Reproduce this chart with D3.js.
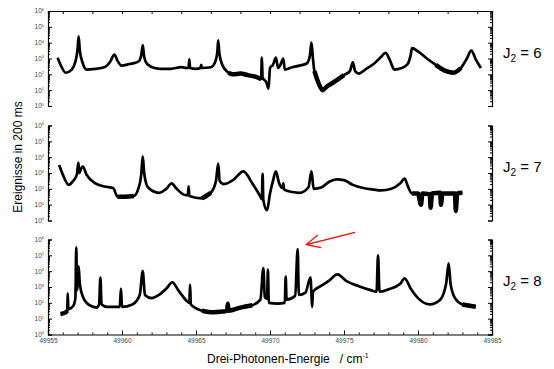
<!DOCTYPE html>
<html>
<head>
<meta charset="utf-8">
<script src="https://cdn.jsdelivr.net/npm/d3@7"></script>
<style>
  body { margin: 0; background: #fff; }
  text { font-family: "Liberation Sans", Arial, sans-serif; }
</style>
</head>
<body>
<svg id="chart" width="554" height="369"></svg>
<script>
// spectra: [energy in cm-1, log10(counts in 200 ms)]
var spectrumJ6 = [
  [49955.65, 3.05], [49955.9, 2.5], [49956.2, 2.1], [49956.6, 2.3], [49956.85, 2.8],
  [49957.0, 3.6], [49957.07, 4.4], [49957.15, 3.5], [49957.35, 2.7], [49957.6, 2.3],
  [49958.2, 2.35], [49958.8, 2.45], [49959.2, 2.8], [49959.48, 3.25], [49959.7, 2.85],
  [49959.95, 2.55], [49960.5, 2.65], [49961.1, 2.8], [49961.3, 3.2], [49961.4, 3.85],
  [49961.5, 3.1], [49961.7, 2.65], [49962.2, 2.4], [49962.6, 2.35], [49963.3, 2.35],
  [49964.0, 2.45], [49964.4, 2.4], [49964.5, 2.45], [49964.55, 2.95], [49964.6, 2.4],
  [49965.0, 2.35], [49965.3, 2.4], [49965.35, 2.6], [49965.4, 2.4], [49966.0, 2.45],
  [49966.3, 2.8], [49966.45, 3.5], [49966.5, 4.15], [49966.58, 3.3], [49966.8, 2.55],
  [49967.2, 2.1], [49967.5, 2.0], [49968.0, 2.05], [49968.5, 1.95], [49969.0, 1.85],
  [49969.4, 1.7], [49969.45, 3.05], [49969.5, 1.8], [49969.75, 1.5], [49969.9, 1.1],
  [49970.0, 2.4], [49970.2, 2.6], [49970.4, 3.05], [49970.55, 2.4], [49970.7, 2.6],
  [49970.9, 3.0], [49971.0, 2.3], [49971.5, 2.45], [49972.0, 2.55], [49972.5, 2.7],
  [49972.7, 3.2], [49972.8, 4.0], [49972.9, 3.0], [49973.0, 2.2], [49973.3, 1.4],
  [49973.55, 1.0], [49973.8, 1.2], [49974.3, 1.5], [49975.0, 1.95], [49975.4, 2.2],
  [49975.6, 2.75], [49975.75, 2.2], [49976.0, 2.05], [49976.5, 2.35], [49977.0, 2.65],
  [49977.5, 3.1], [49977.8, 3.35], [49978.1, 2.9], [49978.4, 2.3], [49978.9, 2.4],
  [49979.3, 2.65], [49979.5, 3.2], [49979.6, 3.65], [49980.0, 3.45], [49980.6, 3.0],
  [49981.2, 2.6], [49981.9, 2.2], [49982.4, 2.1], [49982.9, 2.4], [49983.3, 3.0],
  [49983.6, 3.5], [49983.9, 2.95], [49984.25, 2.4]
];

var spectrumJ7 = [
  [49955.75, 3.5], [49956.0, 2.9], [49956.4, 2.25], [49956.7, 2.5], [49956.95, 2.9],
  [49957.05, 3.65], [49957.12, 3.0], [49957.2, 3.2], [49957.35, 3.4], [49957.6, 2.9],
  [49958.2, 2.35], [49958.8, 2.15], [49959.4, 2.05], [49959.7, 1.5], [49960.2, 1.5],
  [49960.8, 1.55], [49961.1, 2.0], [49961.3, 2.9], [49961.4, 4.05], [49961.5, 3.0],
  [49961.75, 2.1], [49962.5, 1.75], [49963.0, 2.0], [49963.35, 2.35], [49963.7, 2.0],
  [49964.3, 1.6], [49964.45, 1.6], [49964.5, 2.15], [49964.55, 1.55], [49965.4, 1.4],
  [49966.0, 1.75], [49966.35, 2.5], [49966.5, 3.6], [49966.6, 2.5], [49966.9, 2.3],
  [49967.5, 2.55], [49968.2, 3.1], [49968.8, 2.35], [49969.3, 1.6], [49969.45, 1.35],
  [49969.5, 2.95], [49969.55, 1.3], [49969.8, 0.65], [49970.0, 1.7], [49970.2, 2.5],
  [49970.4, 3.1], [49970.6, 2.4], [49970.85, 2.05], [49970.9, 2.35], [49970.95, 1.95],
  [49971.5, 1.8], [49972.0, 1.75], [49972.6, 2.1], [49972.8, 3.1], [49972.95, 2.0],
  [49973.5, 2.1], [49974.0, 2.45], [49974.5, 2.6], [49975.0, 2.55], [49975.6, 2.25],
  [49976.3, 2.05], [49977.0, 1.95], [49977.5, 1.9], [49978.2, 2.0], [49978.8, 2.35],
  [49979.1, 2.65], [49979.3, 2.2], [49979.6, 1.7], [49980.0, 1.7], [49980.2, 1.0],
  [49980.3, 1.7], [49980.8, 1.65], [49980.85, 0.8], [49980.95, 1.7], [49981.5, 1.75],
  [49981.55, 1.0], [49981.65, 1.7], [49982.5, 1.7], [49982.55, 0.6], [49982.65, 1.7],
  [49983.0, 1.75]
];

var spectrumJ8 = [
  [49955.85, 1.3], [49956.2, 1.4], [49956.3, 1.5], [49956.33, 2.6], [49956.38, 1.6],
  [49956.7, 1.8], [49956.85, 2.3], [49956.91, 5.5], [49956.96, 2.8], [49957.02, 3.3],
  [49957.07, 4.3], [49957.15, 3.2], [49957.35, 2.4], [49957.8, 1.85], [49958.3, 1.7],
  [49958.45, 1.9], [49958.54, 3.6], [49958.62, 1.9], [49959.0, 1.75], [49959.85, 1.75],
  [49959.93, 2.9], [49960.0, 1.75], [49960.7, 1.9], [49961.2, 2.5], [49961.4, 4.0],
  [49961.55, 2.5], [49962.0, 2.3], [49962.5, 2.5], [49963.0, 2.9], [49963.4, 3.3],
  [49963.8, 2.8], [49964.4, 2.1], [49964.55, 2.0], [49964.6, 3.15], [49964.65, 1.9],
  [49965.4, 1.5], [49966.2, 1.4], [49966.8, 1.45], [49967.1, 1.5], [49967.15, 1.95],
  [49967.2, 1.5], [49968.0, 1.7], [49968.8, 1.85], [49969.35, 2.2], [49969.55, 4.2],
  [49969.65, 2.35], [49969.8, 2.25], [49969.86, 4.1], [49969.92, 2.0], [49970.5, 1.95],
  [49971.0, 2.0], [49971.06, 3.65], [49971.12, 2.2], [49971.7, 2.45], [49971.87, 5.4],
  [49971.95, 2.5], [49972.4, 2.65], [49972.73, 3.6], [49972.82, 2.2], [49972.85, 1.75],
  [49972.9, 2.7], [49973.5, 3.1], [49974.0, 3.4], [49974.55, 3.8], [49975.2, 3.35],
  [49976.0, 3.05], [49976.8, 2.8], [49977.2, 2.7], [49977.3, 5.0], [49977.4, 2.7],
  [49978.0, 2.85], [49978.8, 3.2], [49979.1, 3.55], [49979.5, 2.9], [49980.0, 2.3],
  [49980.8, 1.9], [49981.5, 2.2], [49981.9, 3.2], [49982.07, 4.5], [49982.2, 3.2],
  [49982.5, 2.3], [49983.0, 1.9], [49983.9, 1.75]
];

// energy ranges where the recorded signal is visibly noisy (drawn as a thicker band)
var noisyJ6 = [[49967.2, 49969.4], [49973.0, 49975.0], [49981.2, 49982.9]];
var noisyJ7 = [[49959.6, 49961.0], [49964.6, 49966.0], [49979.4, 49983.0]];
var noisyJ8 = [[49955.85, 49956.3], [49965.0, 49969.3], [49983.0, 49983.9]];

var panelLabels = ["6", "7", "8"];
var yExponents = [0, 1, 2, 3, 4, 5, 6];
var xMajorTicks = [49955, 49960, 49965, 49970, 49975, 49980, 49985];
// red arrow in the J2 = 8 panel: [energy, log10 counts] of tail and tip
var arrowTail = [49975.75, 6.45];
var arrowTip = [49972.45, 5.68];

var svg = d3.select("#chart");
var left = 48, right = 492;
var panelTops = [11, 125.5, 239.5];
var panelH = 95;

var x = d3.scaleLinear().domain([49955, 49985]).range([left, right]);
var spectra = [spectrumJ6, spectrumJ7, spectrumJ8];
var noisy = [noisyJ6, noisyJ7, noisyJ8];

var minorVals = [];
for (var e = 0; e < 6; e++) {
  for (var m = 2; m <= 9; m++) minorVals.push(m * Math.pow(10, e));
}

spectra.forEach(function(spec, i) {
  var top = panelTops[i], bottom = top + panelH;
  var y = d3.scaleLog().domain([1, 1e6]).range([bottom, top]);
  var g = svg.append("g");

  // left axis with majors + labels
  var ax = g.append("g")
    .attr("transform", "translate(" + left + ",0)")
    .call(d3.axisLeft(y).tickValues(yExponents.map(function(k) { return Math.pow(10, k); }))
      .tickSize(-4).tickPadding(5).tickFormat(""));
  ax.selectAll(".tick text").remove();
  ax.selectAll(".tick").append("text")
    .attr("x", -4).attr("dy", "0.3em")
    .attr("text-anchor", "end")
    .attr("fill", "#444")
    .attr("font-size", 6.5)
    .each(function(d) {
      var t = d3.select(this);
      t.append("tspan").text("10");
      t.append("tspan").attr("dy", -2.5).attr("font-size", 4).text(Math.round(Math.log10(d)));
    });
  g.append("g")
    .attr("transform", "translate(" + left + ",0)")
    .call(d3.axisLeft(y).tickValues(minorVals).tickSize(-2).tickFormat(""))
    .select(".domain").remove();

  // right axis
  g.append("g")
    .attr("transform", "translate(" + right + ",0)")
    .call(d3.axisRight(y).tickValues(yExponents.map(function(k) { return Math.pow(10, k); }))
      .tickSize(-4).tickFormat(""));
  g.append("g")
    .attr("transform", "translate(" + right + ",0)")
    .call(d3.axisRight(y).tickValues(minorVals).tickSize(-2).tickFormat(""))
    .select(".domain").remove();

  g.selectAll(".domain").attr("stroke", "#000").attr("stroke-width", 1.2);
  g.selectAll(".tick line").attr("stroke", "#000");

  // trace
  var line = d3.line()
    .curve(d3.curveMonotoneX)
    .x(function(d) { return x(d[0]); })
    .y(function(d) { return y(Math.pow(10, d[1])); });
  g.append("path")
    .datum(spec)
    .attr("d", line)
    .attr("fill", "none")
    .attr("stroke", "#000")
    .attr("stroke-width", 2.7)
    .attr("stroke-linejoin", "round");
  noisy[i].forEach(function(r) {
    g.append("path")
      .datum(spec.filter(function(d) { return d[0] >= r[0] && d[0] <= r[1]; }))
      .attr("d", line)
      .attr("fill", "none")
      .attr("stroke", "#000")
      .attr("stroke-width", 4.5)
      .attr("stroke-linejoin", "round");
  });

  // J2 label
  var lab = svg.append("text")
    .attr("x", 503).attr("y", top + panelH / 2 - 1)
    .attr("font-size", 15).attr("fill", "#000");
  lab.append("tspan").text("J");
  lab.append("tspan").attr("dy", 4).attr("font-size", 10).text("2");
  lab.append("tspan").attr("dy", -4).text(" = " + panelLabels[i]);

  if (i === 0) {
    // top frame with ticks
    g.append("g")
      .attr("transform", "translate(0," + top + ")")
      .call(d3.axisTop(x).tickValues(d3.range(49956, 49985, 2)).tickSize(-3).tickFormat(""))
      .call(function(s) {
        s.select(".domain").attr("stroke-width", 1.2);
      });
  }
  if (i === 2) {
    var bx = g.append("g")
      .attr("transform", "translate(0," + bottom + ")")
      .call(d3.axisBottom(x).tickValues(xMajorTicks).tickSize(-4).tickPadding(4)
        .tickFormat(d3.format("d")));
    bx.select(".domain").attr("stroke-width", 1.2);
    bx.selectAll(".tick text").attr("font-size", 6.5).attr("fill", "#444")
      .attr("font-family", "Liberation Sans, Arial, sans-serif");
    g.append("g")
      .attr("transform", "translate(0," + bottom + ")")
      .call(d3.axisBottom(x).tickValues(d3.range(49955, 49986, 1)).tickSize(-2).tickFormat(""))
      .select(".domain").remove();

    // arrow
    var tx = x(arrowTip[0]), ty = y(Math.pow(10, arrowTip[1]));
    var sx = x(arrowTail[0]), sy = y(Math.pow(10, arrowTail[1]));
    var ang = Math.atan2(sy - ty, sx - tx);
    var hl = 15, ha = 0.45;
    svg.append("path")
      .attr("d", "M" + sx + "," + sy + "L" + tx + "," + ty +
        "M" + (tx + hl * Math.cos(ang + ha)) + "," + (ty + hl * Math.sin(ang + ha)) +
        "L" + tx + "," + ty +
        "L" + (tx + hl * Math.cos(ang - ha)) + "," + (ty + hl * Math.sin(ang - ha)))
      .attr("fill", "none").attr("stroke", "#ff0000").attr("stroke-width", 1.2);
  }
});

svg.selectAll(".tick line").attr("stroke", "#000");

// axis titles
svg.append("text")
  .attr("transform", "translate(22,157) rotate(-90)")
  .attr("text-anchor", "middle")
  .attr("font-size", 12)
  .text("Ereignisse in 200 ms");

var xt = svg.append("text")
  .attr("x", 207).attr("y", 363)
  .attr("font-size", 12);
xt.append("tspan").text("Drei-Photonen-Energie\u00a0\u00a0 / cm");
xt.append("tspan").attr("dy", -5).attr("font-size", 7).text("-1");
</script>
</body>
</html>
